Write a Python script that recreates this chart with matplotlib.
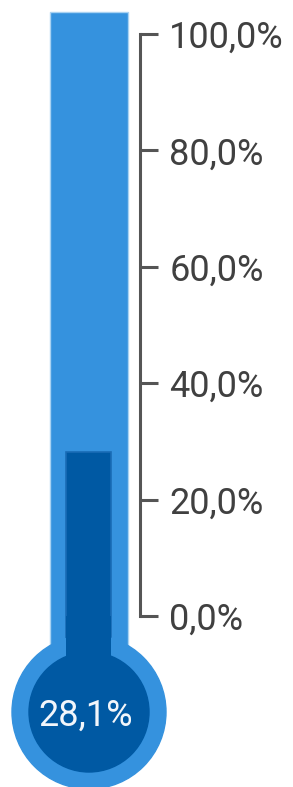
import numpy as np
import matplotlib
matplotlib.use("Agg")
import matplotlib.pyplot as plt
from matplotlib.patches import Ellipse
from matplotlib.ticker import FuncFormatter

plt.rcParams.update({
    "font.family": ["Roboto", "DejaVu Sans"],
})

# data
value = 28.1
tick_values = [0, 20, 40, 60, 80, 100]

# layout (pixels)
W, H = 293, 787
Y0_PX, Y100_PX = 616, 34
PX_PER_UNIT = (Y0_PX - Y100_PX) / 100.0
lo = -(H - Y0_PX) / PX_PER_UNIT
hi = 100 + Y100_PX / PX_PER_UNIT

LIGHT = "#3592de"
DARK = "#0059a3"
EDGE_DARK = "#1a6cb6"

fig = plt.figure(figsize=(W / 100, H / 100), dpi=100)
ax = fig.add_axes([0, 0, 1, 1])
ax.set_xlim(0, W)
ax.set_ylim(lo, hi)
ax.axis("off")

cx = 89
tube_top = (Y0_PX - 12) / PX_PER_UNIT
# outer tube
ax.bar(cx, tube_top - (-15), bottom=-15, width=78, color=LIGHT,
       edgecolor="#a9d2f2", linewidth=1.0, zorder=1)
# fill
ax.bar(88.5, value - (-15), bottom=-15, width=45, color=DARK,
       edgecolor=EDGE_DARK, linewidth=1.2, zorder=2)

# bulb
bulb_y = -(712 - Y0_PX) / PX_PER_UNIT
ax.add_patch(Ellipse((cx, bulb_y), 154, 154 / PX_PER_UNIT, color=LIGHT, zorder=3))
ax.add_patch(Ellipse((cx, bulb_y), 120, 120 / PX_PER_UNIT, color=DARK, zorder=4))
ax.bar(88.5, 0 - bulb_y, bottom=bulb_y, width=45, color=DARK, zorder=4)
ax.text(86, bulb_y, f"{value:.1f}%".replace(".", ","), color="#f2f6fb",
        fontsize=26, ha="center", va="center_baseline", zorder=5)

# scale
sax = fig.add_axes([0, 0, 140 / W, 1])
sax.set_ylim(lo, hi)
sax.patch.set_visible(False)
for s in ["left", "top", "bottom"]:
    sax.spines[s].set_visible(False)
sax.spines["right"].set_bounds(0, 100)
sax.spines["right"].set_color("#555555")
sax.spines["right"].set_linewidth(2.2)
sax.set_xticks([])
sax.set_yticks(tick_values)
sax.yaxis.tick_right()
sax.yaxis.set_major_formatter(FuncFormatter(lambda v, _: f"{v:.1f}%".replace(".", ",")))
sax.tick_params(axis="y", direction="out", length=13, width=2.2, color="#555555",
                pad=8, labelsize=26, labelcolor="#404040")

fig.savefig("out.png", dpi=100)
